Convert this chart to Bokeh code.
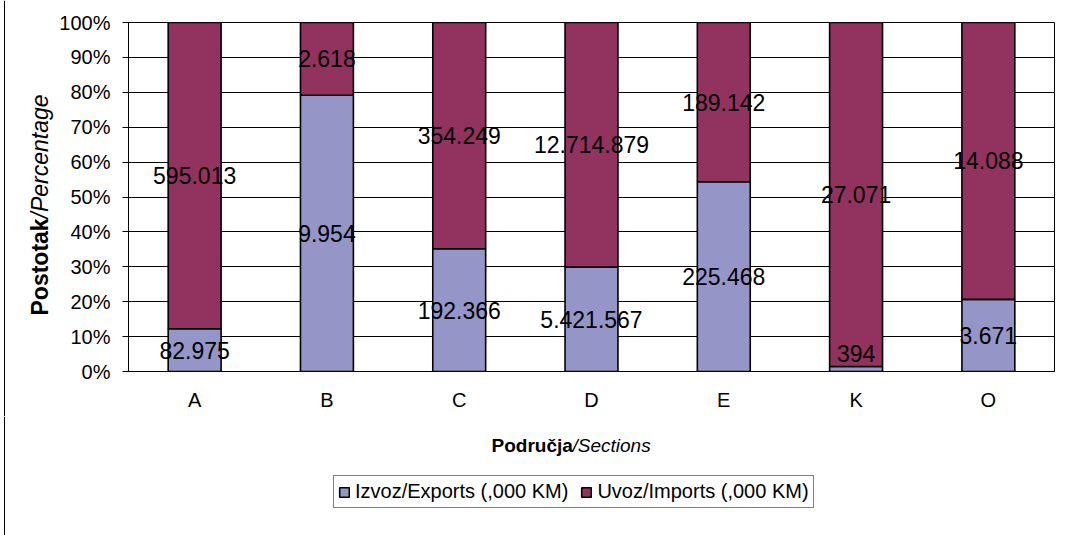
import numpy as np
from bokeh.plotting import figure
from bokeh.layouts import row, column
from bokeh.models import (ColumnDataSource, FactorRange, Range1d, Legend, LegendItem,
                          Label, FixedTicker, Span, Plot)
from bokeh.core.properties import value
from bokeh.embed import file_html
from bokeh.resources import INLINE

# ---- data ----
sections = ["A", "B", "C", "D", "E", "K", "O"]
exports = [82975, 9954, 192366, 5421567, 225468, 394, 3671]
imports = [595013, 2618, 354249, 12714879, 189142, 27071, 14088]
y_ticks = [0, 10, 20, 30, 40, 50, 60, 70, 80, 90, 100]
y_tick_labels = ["0%", "10%", "20%", "30%", "40%", "50%", "60%", "70%", "80%", "90%", "100%"]
export_name = "Izvoz/Exports (,000 KM)"
import_name = "Uvoz/Imports (,000 KM)"
y_title_bold, y_title_italic = "Postotak", "/Percentage"
x_title_bold, x_title_italic = "Područja", "/Sections"

# ---- styles ----
FONT = "Liberation Sans"
EXP_COLOR = "#9595C8"
IMP_COLOR = "#92325E"
LABEL_MIN = 5.2  # label centre is kept inside the plot area (percent)

e = np.array(exports, dtype=float)
i = np.array(imports, dtype=float)
exp_pct = 100 * e / (e + i)


def fmt(v):
    return f"{v:,}".replace(",", ".")


src = ColumnDataSource(dict(
    sec=sections,
    exp_top=exp_pct,
    imp_top=[100.0] * len(sections),
    exp_mid=np.maximum(exp_pct / 2, LABEL_MIN),
    imp_mid=(exp_pct + 100) / 2,
    exp_lbl=[fmt(v) for v in exports],
    imp_lbl=[fmt(v) for v in imports],
))

HAS_FA = "frame_align" in Plot.properties()


def blank(width, height, ystart, yend):
    f = figure(width=width, height=height, x_range=Range1d(0, width), y_range=Range1d(ystart, yend),
               output_backend="svg", toolbar_location=None, min_border=0,
               x_axis_location=None, y_axis_location=None)
    if HAS_FA:
        f.frame_align = False
    f.grid.visible = False
    f.outline_line_color = None
    f.border_fill_color = "white"
    f.background_fill_color = "white"
    f.add_layout(Span(location=4, dimension="height", line_color="black", line_width=1))
    return f


def title_label(fig, x, y, text, size, style, angle=0.0, baseline="alphabetic"):
    fig.add_layout(Label(x=x, y=y, angle=angle, text=text, text_font=FONT, text_font_size=size,
                         text_font_style=style, text_color="black",
                         text_baseline=baseline, text_align="left"))


# ---- main chart ----
p = figure(width=1012, height=416, x_range=FactorRange(factors=sections, range_padding=0),
           y_range=Range1d(0, 100), output_backend="svg", toolbar_location=None,
           min_border_left=73, min_border_right=13, min_border_top=22, min_border_bottom=45)

p.vbar(x="sec", bottom=0, top="exp_top", width=0.4, source=src,
       fill_color=EXP_COLOR, line_color="black", line_width=1.6)
p.vbar(x="sec", bottom="exp_top", top="imp_top", width=0.4, source=src,
       fill_color=IMP_COLOR, line_color="black", line_width=1.6)

for ycol, tcol in (("exp_mid", "exp_lbl"), ("imp_mid", "imp_lbl")):
    p.text(x="sec", y=ycol, text=tcol, source=src, text_align="center", text_baseline="middle",
           text_font=value(FONT), text_font_size="23px", text_color="black")

p.yaxis.ticker = FixedTicker(ticks=y_ticks)
p.yaxis.major_label_overrides = {t: l for t, l in zip(y_ticks, y_tick_labels)}
p.yaxis.minor_tick_line_color = None
p.yaxis.major_tick_in = 0
p.yaxis.major_tick_out = 6
p.yaxis.major_tick_line_color = "black"
p.yaxis.axis_line_color = "black"
p.yaxis.major_label_standoff = 12
p.xaxis.major_tick_line_color = None
p.xaxis.minor_tick_line_color = None
p.xaxis.axis_line_color = "black"
p.xaxis.major_label_standoff = 11
for ax in (p.xaxis, p.yaxis):
    ax.major_label_text_font = FONT
    ax.major_label_text_font_size = "20px"
    ax.major_label_text_color = "black"

p.xgrid.grid_line_color = None
p.ygrid.grid_line_color = "black"
p.ygrid.grid_line_width = 1
p.outline_line_color = "black"
p.background_fill_color = "white"
p.border_fill_color = "white"

# ---- left strip with the y title ----
left = blank(55, 416, 416, 0)
title_label(left, 39, 315, y_title_bold, "23px", "bold", angle=np.pi / 2, baseline="middle")
title_label(left, 39, 218, y_title_italic, "23px", "italic", angle=np.pi / 2, baseline="middle")

# ---- bottom strip with the x title and legend ----
bottom = blank(1067, 119, 535, 416)
title_label(bottom, 491, 445, x_title_bold, "19px", "bold")
title_label(bottom, 572, 445, x_title_italic, "19px", "italic")
# legend swatches (drawn off the visible range; only their legend glyphs show)
d_exp = bottom.rect(x=[-100], y=[0], width=1, height=1, fill_color=EXP_COLOR, line_color="black",
                    line_width=1.6)
d_imp = bottom.rect(x=[-100], y=[0], width=1, height=1, fill_color=IMP_COLOR, line_color="black",
                    line_width=1.6)
legend = Legend(items=[LegendItem(label=export_name, renderers=[d_exp]),
                       LegendItem(label=import_name, renderers=[d_imp])],
                orientation="horizontal", location=(333, 27),
                label_text_font=FONT, label_text_font_size="20px", label_text_color="black",
                glyph_width=12, glyph_height=12, label_standoff=5, spacing=12,
                padding=4, margin=0, border_line_color="black", border_line_width=1,
                background_fill_alpha=1)
bottom.add_layout(legend)

layout = column(row(left, p), bottom)
open("out.html", "w").write(file_html(layout, INLINE))
